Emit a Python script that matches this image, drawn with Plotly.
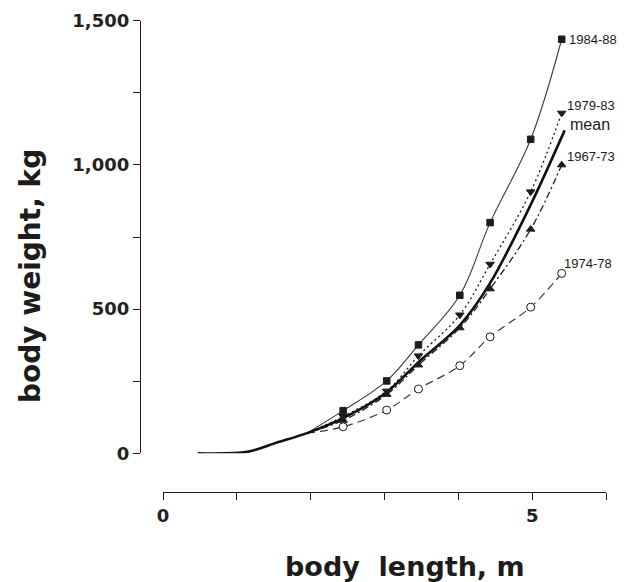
import plotly.graph_objects as go

# ---- data ----
length_pts = [2.44, 3.03, 3.46, 4.02, 4.43, 4.98, 5.40]

w_1984_88 = [148, 251, 376, 548, 800, 1089, 1436]
w_1979_83 = [128, 216, 338, 480, 656, 907, 1180]
w_1967_73 = [114, 204, 306, 435, 570, 777, 1000]
w_1974_78 = [92, 150, 223, 304, 404, 507, 624]

# mean curve (thick line)
mean_len = [0.47, 1.14, 1.54, 1.95, 2.44, 3.03, 3.46, 4.02, 4.43, 4.98, 5.44]
mean_w = [0, 5, 37, 70, 122, 212, 316, 444, 590, 862, 1120]

# common start where the period curves leave the mean curve
branch_len = [1.95]
branch_w = [70]

y_tickvals = [0, 250, 500, 750, 1000, 1250, 1500]
y_ticktext = ["0", "", "500", "", "1,000", "", "1,500"]
x_tickvals = [0, 1, 2, 3, 4, 5, 6]
x_ticktext = ["0", "", "", "", "", "5", ""]

INK = "#1c1c1c"

# page body adds an 8px offset; the figure is sized so the page fits the window
OFF = 8
W, H = 626 - OFF, 582 - OFF


def px(X):
    return (X - OFF) / W


def py(Y):
    return (H - (Y - OFF)) / H


fig = go.Figure()


def curve(wvals, dash, width, color=INK):
    fig.add_trace(go.Scatter(
        x=branch_len + length_pts, y=branch_w + wvals, mode="lines",
        line=dict(color=color, width=width, dash=dash, shape="spline", smoothing=1.0),
        showlegend=False, hoverinfo="skip"))


curve(w_1984_88, "solid", 1.1, "#3a3a3a")
curve(w_1979_83, "2px,3px", 1.3)
curve(w_1967_73, "7px,3px,2px,3px", 1.3)
curve(w_1974_78, "8px,5px", 1.2, "#3a3a3a")

fig.add_trace(go.Scatter(
    x=mean_len, y=mean_w, mode="lines",
    line=dict(color="#111111", width=2.6, shape="spline", smoothing=0.9),
    showlegend=False, hoverinfo="skip"))


def markers(wvals, symbol, size, fill=INK):
    fig.add_trace(go.Scatter(
        x=length_pts, y=wvals, mode="markers",
        marker=dict(symbol=symbol, size=size, color=fill,
                    line=dict(color=INK, width=1)),
        showlegend=False, hoverinfo="skip", cliponaxis=False))


markers(w_1984_88, "square", 6.5)
markers(w_1979_83, "triangle-down", 7.5)
markers(w_1967_73, "triangle-up", 7.5)
markers(w_1974_78, "circle", 8, "white")

lab_font = dict(family="Liberation Sans", size=13, color=INK)
labels = [
    ("1984-88", 5.47, 1434, lab_font),
    ("1979-83", 5.44, 1205, lab_font),
    ("mean", 5.48, 1139, dict(family="Liberation Sans", size=16, color=INK)),
    ("1967-73", 5.44, 1028, lab_font),
    ("1974-78", 5.41, 657, lab_font),
]
for txt, lx, ly, f in labels:
    fig.add_annotation(x=lx, y=ly, xref="x", yref="y", text=txt, showarrow=False,
                       xanchor="left", yanchor="middle", font=f)

fig.add_annotation(x=px(30), y=py(276), xref="paper", yref="paper",
                   text="body weight, kg", textangle=-90, showarrow=False,
                   xanchor="center", yanchor="middle",
                   font=dict(family="DejaVu Sans", size=28, color=INK, weight="bold"))
fig.add_annotation(x=px(405), y=py(566), xref="paper", yref="paper",
                   text="body\u00a0\u00a0length, m", showarrow=False,
                   xanchor="center", yanchor="middle",
                   font=dict(family="DejaVu Sans", size=27, color=INK, weight="bold"))

tick_font = dict(family="DejaVu Sans", size=18, color="#222222", weight="bold")
fig.update_layout(
    width=W, height=H, autosize=False,
    margin=dict(l=0, r=0, t=0, b=0, pad=0, autoexpand=False),
    paper_bgcolor="white", plot_bgcolor="white",
    xaxis=dict(domain=[px(163), px(606)], range=[0, 6], anchor="free",
               position=py(492), showline=True, linecolor=INK, linewidth=1.3,
               ticks="outside", ticklen=7, tickwidth=1.3, tickcolor=INK,
               tickvals=x_tickvals, ticktext=x_ticktext, tickfont=tick_font,
               showgrid=False, zeroline=False, automargin=False),
    yaxis=dict(domain=[py(453.3), py(20.8)], range=[0, 1500],
               anchor="free", position=px(140), showline=True, linecolor=INK,
               linewidth=1.3, ticks="outside", ticklen=7, tickwidth=1.3, tickcolor=INK,
               tickvals=y_tickvals, ticktext=y_ticktext, tickfont=tick_font,
               showgrid=False, zeroline=False, automargin=False),
)

fig.write_html("out.html")
